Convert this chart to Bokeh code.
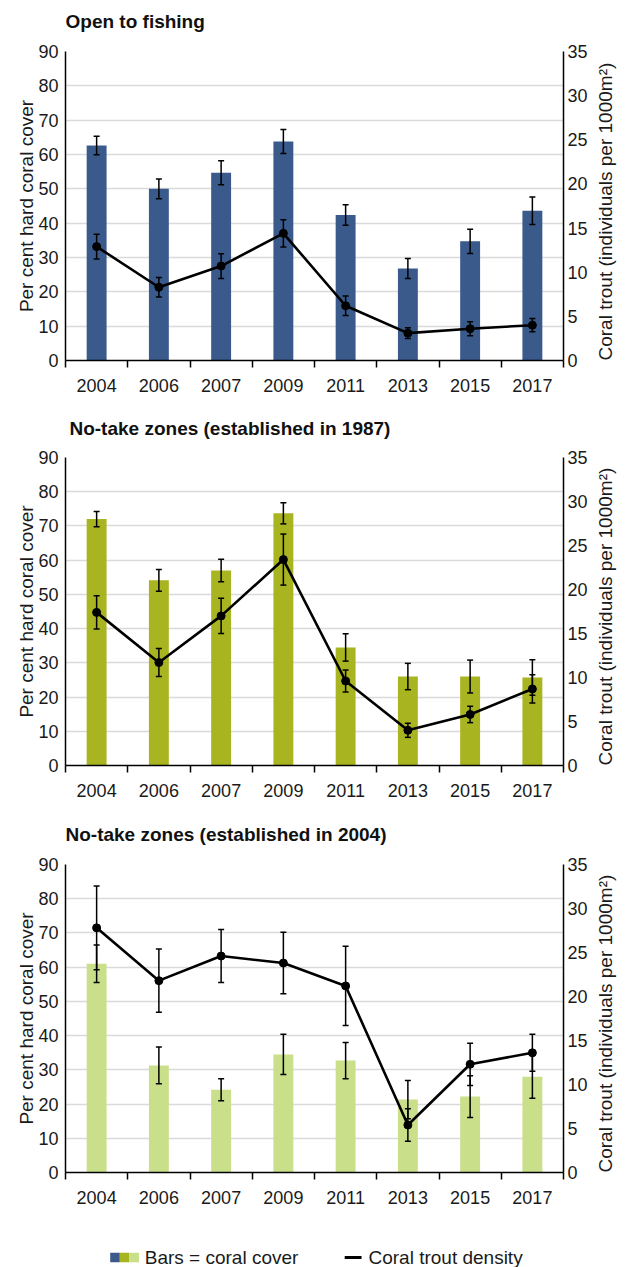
import numpy as np
from bokeh.plotting import figure
from bokeh.models import Range1d, LinearAxis, FixedTicker, Whisker, TeeHead, ColumnDataSource
from bokeh.layouts import column
from bokeh.embed import file_html
from bokeh.resources import INLINE
from bokeh.core.properties import value

years = ["2004", "2006", "2007", "2009", "2011", "2013", "2015", "2017"]
cover_ticks = [0, 10, 20, 30, 40, 50, 60, 70, 80, 90]
trout_ticks = [0, 5, 10, 15, 20, 25, 30, 35]

titles = ["Open to fishing",
          "No-take zones (established in 1987)",
          "No-take zones (established in 2004)"]

open_cover = [62.6, 50.0, 54.7, 63.8, 42.4, 26.8, 34.7, 43.6]
open_cover_err = [2.7, 2.9, 3.5, 3.5, 3.0, 2.9, 3.5, 4.0]
open_trout = [12.9, 8.3, 10.7, 14.4, 6.2, 3.1, 3.6, 4.0]
open_trout_err = [1.4, 1.1, 1.4, 1.55, 1.1, 0.6, 0.8, 0.75]

nt87_cover = [72.0, 54.1, 57.0, 73.7, 34.5, 26.0, 26.0, 25.7]
nt87_cover_err = [2.2, 3.2, 3.3, 3.1, 4.0, 3.85, 4.8, 5.2]
nt87_trout = [17.4, 11.7, 17.0, 23.4, 9.6, 4.0, 5.8, 8.7]
nt87_trout_err = [1.9, 1.6, 2.0, 2.9, 1.25, 0.8, 0.93, 1.6]

nt04_cover = [61.0, 31.3, 24.2, 34.5, 32.7, 21.3, 22.2, 28.0]
nt04_cover_err = [5.5, 5.4, 3.2, 5.9, 5.3, 5.6, 6.1, 6.3]
nt04_trout = [27.8, 21.8, 24.6, 23.8, 21.2, 5.4, 12.3, 13.6]
nt04_trout_err = [4.75, 3.6, 3.0, 3.5, 4.5, 1.85, 2.4, 2.1]

bar_colors = ["#3a5a8c", "#a8b520", "#c9df8a"]
legend_labels = ["Bars = coral cover", "Coral trout density"]
left_title = "Per cent hard coral cover"
right_title = "Coral trout (individuals per 1000m²)"

FONT = "Liberation Sans"
TXT = "#1a1a1a"
W = 629
BL, BR = 65, 61


def strip(h):
    f = figure(width=W, height=h, x_range=Range1d(BL, W - BR), y_range=Range1d(0, h),
               toolbar_location=None, output_backend="svg", min_border_left=BL,
               min_border_right=BR, min_border_top=0, min_border_bottom=0,
               x_axis_location=None, y_axis_location=None)
    f.outline_line_color = None
    f.grid.visible = False
    return f


def title_strip(text, h, y, x0):
    f = strip(h)
    f.text(x=[x0], y=[y], text=[text], text_font=value(FONT), text_font_size="19px",
           text_font_style="bold", text_baseline="middle", text_color="#111111")
    return f


def make_panel(cover, cover_err, trout, trout_err, color, height, b_top, b_bottom):
    n = len(years)
    xs = np.arange(n) + 0.5
    cover = np.array(cover)
    cover_err = np.array(cover_err)
    trout = np.array(trout)
    trout_err = np.array(trout_err)
    src = ColumnDataSource(dict(x=xs, cover=cover, cu=cover + cover_err, cl=cover - cover_err,
                                trout=trout, tu=trout + trout_err, tl=trout - trout_err))
    p = figure(width=W, height=height, x_range=Range1d(0, n), y_range=Range1d(0, 90),
               toolbar_location=None, output_backend="svg",
               min_border_left=BL, min_border_right=BR, min_border_top=b_top,
               min_border_bottom=b_bottom)
    p.extra_y_ranges = {"trout": Range1d(0, 35)}
    p.outline_line_color = None

    p.xgrid.visible = False
    p.ygrid.ticker = FixedTicker(ticks=cover_ticks)
    p.ygrid.grid_line_color = "#dadada"
    p.ygrid.grid_line_width = 1.5

    xa = p.xaxis[0]
    xa.ticker = FixedTicker(ticks=list(xs), minor_ticks=list(range(n + 1)))
    xa.major_label_overrides = {float(x): y for x, y in zip(xs, years)}
    xa.major_tick_line_color = None
    xa.major_tick_out = 0
    xa.major_tick_in = 0
    xa.minor_tick_in = 0
    xa.minor_tick_out = 7
    xa.minor_tick_line_color = "black"
    xa.minor_tick_line_width = 1.5
    xa.axis_line_color = "black"
    xa.axis_line_width = 1.5
    xa.major_label_standoff = 11
    xa.major_label_text_font = FONT
    xa.major_label_text_font_size = "18px"
    xa.major_label_text_color = TXT

    ya = p.yaxis[0]
    ya.ticker = FixedTicker(ticks=cover_ticks)
    ya.major_tick_line_color = None
    ya.major_tick_out = 0
    ya.major_tick_in = 0
    ya.minor_tick_line_color = None
    ya.axis_line_color = "black"
    ya.axis_line_width = 1.5
    ya.major_label_standoff = 7
    ya.major_label_text_font = FONT
    ya.major_label_text_font_size = "18px"
    ya.major_label_text_color = TXT
    ya.major_label_text_baseline = "alphabetic"
    ya.axis_label = left_title
    ya.axis_label_text_font = FONT
    ya.axis_label_text_font_size = "19px"
    ya.axis_label_text_font_style = "normal"
    ya.axis_label_text_color = TXT
    ya.axis_label_standoff = -2

    ra = LinearAxis(y_range_name="trout", ticker=FixedTicker(ticks=trout_ticks),
                    axis_label=right_title)
    ra.major_tick_line_color = None
    ra.major_tick_out = 0
    ra.major_tick_in = 0
    ra.minor_tick_line_color = None
    ra.axis_line_color = "black"
    ra.axis_line_width = 1.5
    ra.major_label_standoff = 4
    ra.major_label_text_font = FONT
    ra.major_label_text_font_size = "18px"
    ra.major_label_text_color = TXT
    ra.major_label_text_baseline = "alphabetic"
    ra.axis_label_text_font = FONT
    ra.axis_label_text_font_size = "19px"
    ra.axis_label_text_font_style = "normal"
    ra.axis_label_text_color = TXT
    ra.axis_label_standoff = 15
    try:
        ra.axis_label_orientation = np.pi / 2
        ra.axis_label_align = "start"
    except Exception:
        ra.axis_label_orientation = "parallel"
    p.add_layout(ra, "right")

    p.vbar(x="x", top="cover", bottom=0, width=0.32, source=src,
           fill_color=color, line_color=None)
    p.line(x="x", y="trout", source=src, y_range_name="trout",
           line_color="black", line_width=2.6)
    p.scatter(x="x", y="trout", source=src, y_range_name="trout",
              size=8, fill_color="black", line_color="black")
    for up, lo, rng in (("cu", "cl", "default"), ("tu", "tl", "trout")):
        p.add_layout(Whisker(source=src, base="x", upper=up, lower=lo,
                             y_range_name=rng, level="overlay",
                             line_color="black", line_width=1.5,
                             upper_head=TeeHead(size=6, line_color="black", line_width=1.5),
                             lower_head=TeeHead(size=6, line_color="black", line_width=1.5)))
    return p


t1 = title_strip(titles[0], 40, 19, 65)
p1 = make_panel(open_cover, open_cover_err, open_trout, open_trout_err,
                bar_colors[0], 374, 11, 54)
t2 = title_strip(titles[1], 35, 21, 69)
p2 = make_panel(nt87_cover, nt87_cover_err, nt87_trout, nt87_trout_err,
                bar_colors[1], 350, 8, 34)
t3 = title_strip(titles[2], 57, 22, 65)
p3 = make_panel(nt04_cover, nt04_cover_err, nt04_trout, nt04_trout_err,
                bar_colors[2], 350, 8, 34)

lg = strip(61)
lg.rect(x=[115, 124.7, 134.4], y=10, width=9.7, height=9.5, fill_color=bar_colors,
        line_color=None)
lg.text(x=[145], y=[10], text=[legend_labels[0]], text_font=value(FONT),
        text_font_size="19px", text_baseline="middle", text_color=TXT)
lg.segment(x0=[347], y0=[10], x1=[364], y1=[10], line_color="black", line_width=3)
lg.text(x=[371], y=[10], text=[legend_labels[1]], text_font=value(FONT),
        text_font_size="19px", text_baseline="middle", text_color=TXT)

layout = column(t1, p1, t2, p2, t3, p3, lg, spacing=0)
open("out.html", "w").write(file_html(layout, INLINE))
